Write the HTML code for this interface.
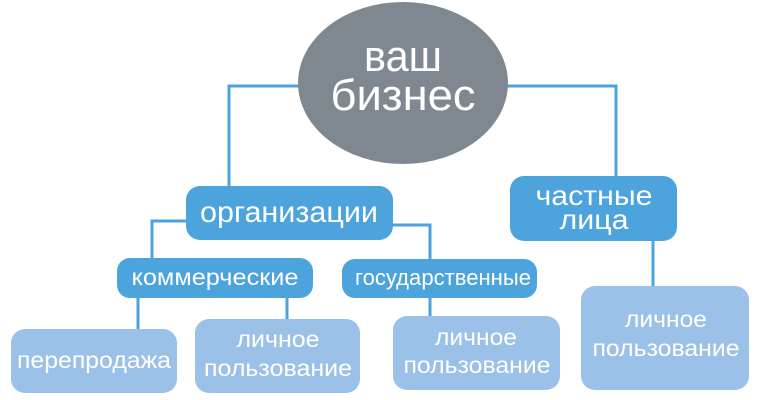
<!DOCTYPE html>
<html><head><meta charset="utf-8"><style>
html,body{margin:0;padding:0;background:#fff;}
svg{display:block}
text{font-family:"Liberation Sans","DejaVu Sans",sans-serif;fill:#fff;text-anchor:middle}
</style></head><body>
<svg width="760" height="400" viewBox="0 0 760 400" xmlns="http://www.w3.org/2000/svg">
<g fill="none" stroke="#4da3dc" stroke-width="3">
<polyline points="300,86 229,86 229,188"/>
<polyline points="505,86 616,86 616,178"/>
<polyline points="188,221 152,221 152,260"/>
<polyline points="391,225 430,225 430,262"/>
<line x1="138" y1="296" x2="138" y2="331"/>
<line x1="287" y1="296" x2="287" y2="321"/>
<line x1="430" y1="296" x2="430" y2="318"/>
<line x1="653" y1="239" x2="653" y2="288"/>
</g>
<ellipse cx="403" cy="83" rx="105" ry="81" fill="#7f8891"/>
<text x="403" y="71" font-size="44" textLength="78" lengthAdjust="spacingAndGlyphs">ваш</text>
<text x="403" y="110" font-size="44" textLength="145" lengthAdjust="spacingAndGlyphs">бизнес</text>
<rect x="186" y="186" width="207" height="54" rx="14" fill="#4da3dc"/>
<text x="289" y="222" font-size="30" textLength="178" lengthAdjust="spacingAndGlyphs">организации</text>
<rect x="510" y="176" width="167" height="65" rx="14" fill="#4da3dc"/>
<text x="594" y="205" font-size="28" textLength="117" lengthAdjust="spacingAndGlyphs">частные</text>
<text x="594" y="229" font-size="28" textLength="69" lengthAdjust="spacingAndGlyphs">лица</text>
<rect x="117" y="258" width="196" height="40" rx="13" fill="#4da3dc"/>
<text x="215" y="285" font-size="23" textLength="167" lengthAdjust="spacingAndGlyphs">коммерческие</text>
<rect x="342" y="259" width="195" height="39" rx="13" fill="#4da3dc"/>
<text x="443" y="285" font-size="22" textLength="176" lengthAdjust="spacingAndGlyphs">государственные</text>
<rect x="11" y="329" width="166" height="64" rx="14" fill="#9cc1e8"/>
<text x="94" y="368" font-size="23" textLength="154" lengthAdjust="spacingAndGlyphs">перепродажа</text>
<rect x="195" y="319" width="165" height="74" rx="14" fill="#9cc1e8"/>
<text x="278" y="347" font-size="23" textLength="83" lengthAdjust="spacingAndGlyphs">личное</text>
<text x="278" y="376" font-size="23" textLength="148" lengthAdjust="spacingAndGlyphs">пользование</text>
<rect x="393" y="316" width="167" height="74" rx="14" fill="#9cc1e8"/>
<text x="476" y="345" font-size="23" textLength="82" lengthAdjust="spacingAndGlyphs">личное</text>
<text x="477" y="373" font-size="23" textLength="147" lengthAdjust="spacingAndGlyphs">пользование</text>
<rect x="581" y="286" width="168" height="104" rx="14" fill="#9cc1e8"/>
<text x="666" y="327" font-size="23" textLength="82" lengthAdjust="spacingAndGlyphs">личное</text>
<text x="666" y="356" font-size="23" textLength="147" lengthAdjust="spacingAndGlyphs">пользование</text>
</svg>
</body></html>
